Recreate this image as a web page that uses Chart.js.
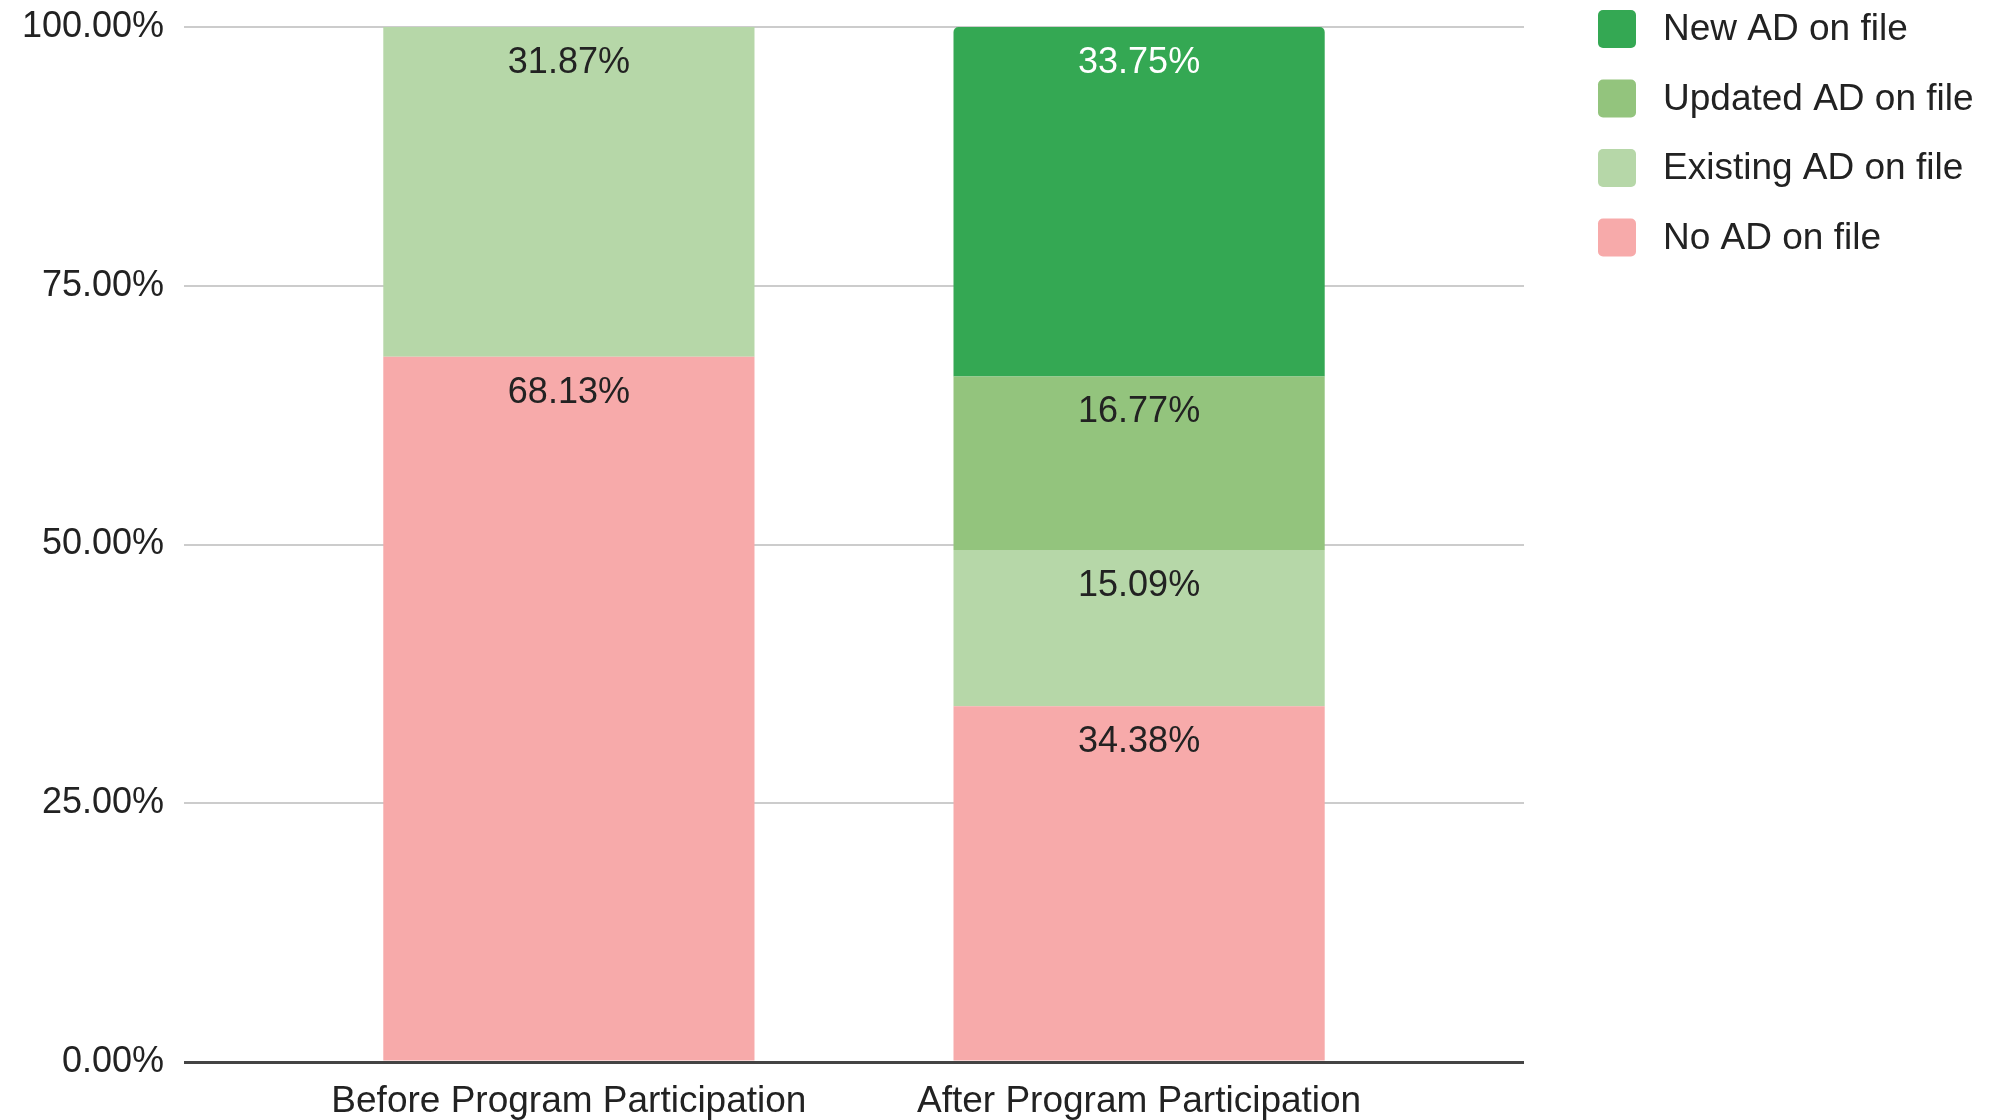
<!DOCTYPE html>
<html>
<head>
<meta charset="utf-8">
<script src="https://cdn.jsdelivr.net/npm/chart.js@4"></script>
<style>
  html, body { margin: 0; padding: 0; background: #fff; }
  #wrap { width: 1993px; height: 1120px; position: relative; }
</style>
</head>
<body>
<div id="wrap"><canvas id="adChart"></canvas></div>
<script>
// categories sit at x = 1 and 2 on a linear axis so the gaps round the bars come out even
var categories = ["Before Program Participation", "After Program Participation"];
var categoryPos = [1, 2];
var seriesNames = ["No AD on file", "Existing AD on file", "Updated AD on file", "New AD on file"];
var noAd = [68.13, 34.38];
var existingAd = [31.87, 15.09];
var updatedAd = [null, 16.77];
var newAd = [null, 33.75];
var yTicks = [0, 25, 50, 75, 100];

var colors = ["#f7aaaa", "#b6d7a8", "#93c47d", "#34a853"];
var labelColors = ["#222", "#222", "#222", "#fff"];
var fontFamily = "'Liberation Sans', Arial, sans-serif";

function toPoints(values) {
  return values.map(function (v, i) {
    return { x: categoryPos[i], y: v };
  });
}

var seriesValues = [noAd, existingAd, updatedAd, newAd];
var datasets = [];
for (var i = 0; i < seriesNames.length; i++) {
  datasets.push({
    label: seriesNames[i],
    data: toPoints(seriesValues[i]),
    backgroundColor: colors[i],
    borderWidth: 0,
    borderRadius: i === 3 ? { topLeft: 5, topRight: 5, bottomLeft: 0, bottomRight: 0 } : 0,
    categoryPercentage: 1,
    barPercentage: 0.651,
  });
}

// value labels near the top of every segment
var valueLabels = {
  id: "valueLabels",
  afterDatasetsDraw: function (chart) {
    var ctx = chart.ctx;
    ctx.save();
    ctx.font = "36px " + fontFamily;
    ctx.textAlign = "center";
    ctx.textBaseline = "middle";
    chart.data.datasets.forEach(function (ds, i) {
      var meta = chart.getDatasetMeta(i);
      meta.data.forEach(function (bar, j) {
        var v = ds.data[j].y;
        if (v == null) return;
        ctx.fillStyle = labelColors[i];
        ctx.fillText(v.toFixed(2) + "%", bar.x, bar.y + 36);
      });
    });
    ctx.restore();
  },
};

// legend on the right, top series first
var sideLegend = {
  id: "sideLegend",
  afterDraw: function (chart) {
    var ctx = chart.ctx;
    ctx.save();
    ctx.font = "37px " + fontFamily;
    ctx.textAlign = "left";
    ctx.textBaseline = "middle";
    var x = chart.chartArea.right + 74;
    var row = 0;
    for (var i = seriesNames.length - 1; i >= 0; i--) {
      var y = 10 + row * 69.5;
      ctx.fillStyle = colors[i];
      ctx.beginPath();
      ctx.roundRect(x, y, 38, 38, 5);
      ctx.fill();
      ctx.fillStyle = "#222";
      ctx.fillText(seriesNames[i], x + 65, y + 20);
      row++;
    }
    ctx.restore();
  },
};

new Chart(document.getElementById("adChart"), {
  type: "bar",
  data: { datasets: datasets },
  plugins: [valueLabels, sideLegend],
  options: {
    responsive: true,
    maintainAspectRatio: false,
    animation: false,
    events: [],
    layout: { padding: { top: 27, right: 469, bottom: 0, left: 0 } },
    plugins: {
      legend: { display: false },
      tooltip: { enabled: false },
    },
    scales: {
      x: {
        type: "linear",
        stacked: true,
        offset: false,
        min: 0.325,
        max: 2.675,
        afterBuildTicks: function (scale) {
          scale.ticks = categoryPos.map(function (v) { return { value: v }; });
        },
        afterFit: function (scale) {
          scale.height = 58;
        },
        grid: { display: false, offset: false },
        border: { display: false },
        ticks: {
          padding: 10,
          color: "#222",
          font: { family: fontFamily, size: 37 },
          maxRotation: 0,
          autoSkip: false,
          callback: function (value) {
            return categories[categoryPos.indexOf(value)];
          },
        },
      },
      y: {
        stacked: true,
        min: 0,
        max: 100,
        afterBuildTicks: function (scale) {
          scale.ticks = yTicks.map(function (v) { return { value: v }; });
        },
        afterFit: function (scale) {
          scale.width = 184;
          // keep the plot top pinned by layout padding only
          scale.paddingTop = 0;
          scale.paddingBottom = 0;
        },
        border: { display: false },
        grid: {
          drawTicks: false,
          color: function (ctx) {
            return ctx.tick && ctx.tick.value === 0 ? "#444" : "#cccccc";
          },
          lineWidth: function (ctx) {
            return ctx.tick && ctx.tick.value === 0 ? 3 : 2;
          },
        },
        ticks: {
          padding: 20,
          color: "#222",
          font: { family: fontFamily, size: 36 },
          callback: function (value) {
            return value.toFixed(2) + "%";
          },
        },
      },
    },
  },
});
</script>
</body>
</html>
